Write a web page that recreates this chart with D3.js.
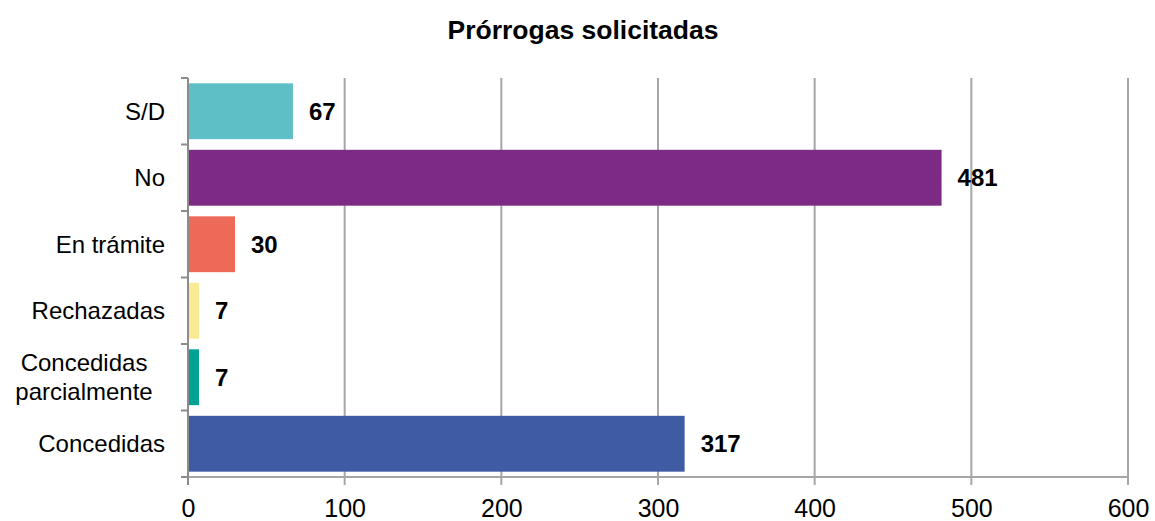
<!DOCTYPE html>
<html lang="es">
<head>
  <meta charset="UTF-8">
  <title>Prórrogas solicitadas</title>
  <script src="https://d3js.org/d3.v7.min.js"></script>
  <style>
    body { margin: 0; background: #fff; }
    text { font-family: "Liberation Sans", Arial, sans-serif; fill: #000; }
    .title { font-size: 26.5px; font-weight: bold; }
    .cat { font-size: 24px; }
    .value { font-size: 24px; font-weight: bold; }
  </style>
</head>
<body>
  <svg width="1155" height="521"></svg>
  <script>
    // Data
    const categories = ["S/D", "No", "En trámite", "Rechazadas", "Concedidas parcialmente", "Concedidas"];
    const values = [67, 481, 30, 7, 7, 317];
    const colors = ["#5fbfc7", "#7d2a84", "#ee6a58", "#f8eb93", "#00a295", "#3e5ba3"];
    const xTicks = [0, 100, 200, 300, 400, 500, 600];

    const svg = d3.select("svg");
    const margin = {top: 78, right: 27, bottom: 44, left: 188};
    const width = 1155, height = 521;
    const bottomY = height - margin.bottom;

    const x = d3.scaleLinear()
      .domain([0, 600])
      .range([margin.left, width - margin.right]);

    const y = d3.scaleBand()
      .domain(categories)
      .range([margin.top, bottomY])
      .paddingInner(0.16)
      .paddingOuter(0.08);

    // Title
    svg.append("text")
      .attr("class", "title")
      .attr("x", 583)
      .attr("y", 39)
      .attr("text-anchor", "middle")
      .text("Prórrogas solicitadas");

    // Vertical gridlines
    svg.append("g")
      .selectAll("line")
      .data(xTicks.slice(1))
      .enter().append("line")
        .attr("x1", d => x(d)).attr("x2", d => x(d))
        .attr("y1", margin.top).attr("y2", bottomY + 8)
        .attr("stroke", "#a6a6a6")
        .attr("stroke-width", 2);

    // Bars
    svg.append("g")
      .selectAll("rect")
      .data(values)
      .enter().append("rect")
        .attr("x", x(0))
        .attr("y", (d, i) => y(categories[i]))
        .attr("width", d => x(d) - x(0))
        .attr("height", y.bandwidth())
        .attr("fill", (d, i) => colors[i]);

    // Value labels
    svg.append("g")
      .selectAll("text")
      .data(values)
      .enter().append("text")
        .attr("class", "value")
        .attr("x", d => x(d) + 16)
        .attr("y", (d, i) => y(categories[i]) + y.bandwidth() / 2)
        .attr("dy", "0.36em")
        .text(d => d);

    // Axis lines
    const axisG = svg.append("g").attr("stroke", "#8c8c8c").attr("stroke-width", 2);
    axisG.append("line")
      .attr("x1", x(0) - 7).attr("x2", x(600))
      .attr("y1", bottomY).attr("y2", bottomY)
      .attr("stroke", "#a6a6a6");
    axisG.append("line")
      .attr("x1", x(0)).attr("x2", x(0))
      .attr("y1", margin.top).attr("y2", bottomY + 8);
    const step = (bottomY - margin.top) / categories.length;
    axisG.selectAll("line.bt")
      .data(d3.range(categories.length + 1))
      .enter().append("line")
        .attr("class", "bt")
        .attr("x1", x(0) - 7).attr("x2", x(0))
        .attr("y1", i => margin.top + i * step)
        .attr("y2", i => margin.top + i * step);

    // Category labels (long one wrapped on two centred lines)
    const catG = svg.append("g");
    categories.forEach(c => {
      const cy = y(c) + y.bandwidth() / 2;
      if (c === "Concedidas parcialmente") {
        ["Concedidas", "parcialmente"].forEach((ln, j) => {
          catG.append("text")
            .attr("class", "cat")
            .attr("text-anchor", "middle")
            .attr("x", 84)
            .attr("y", cy + (j - 0.5) * 29)
            .attr("dy", "0.36em")
            .text(ln);
        });
      } else {
        catG.append("text")
          .attr("class", "cat")
          .attr("text-anchor", "end")
          .attr("x", 165)
          .attr("y", cy)
          .attr("dy", "0.36em")
          .text(c);
      }
    });

    // Bottom tick labels
    const xAxis = svg.append("g")
      .attr("transform", `translate(0,${bottomY})`)
      .call(d3.axisBottom(x).tickValues(xTicks).tickSize(0).tickPadding(22));
    xAxis.select(".domain").remove();
    xAxis.selectAll(".tick text")
      .attr("fill", "#000")
      .style("font-size", "25px")
      .style("font-family", "'Liberation Sans', Arial, sans-serif");
  </script>
</body>
</html>
